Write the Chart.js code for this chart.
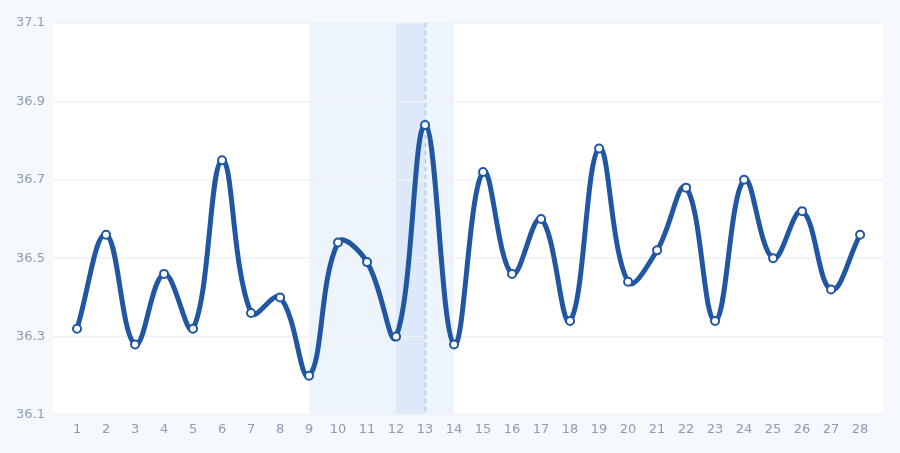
<!DOCTYPE html>
<html>
<head>
<meta charset="utf-8">
<script src="https://cdn.jsdelivr.net/npm/chart.js@4/dist/chart.umd.min.js"></script>
<style>
  html, body { margin: 0; padding: 0; background: #f5f8fc; }
  #wrap { width: 900px; height: 453px; position: relative; }
</style>
</head>
<body>
<div id="wrap"><canvas id="c" width="900" height="453"></canvas></div>
<script>
const days = [1,2,3,4,5,6,7,8,9,10,11,12,13,14,15,16,17,18,19,20,21,22,23,24,25,26,27,28];
const temps = [36.32,36.56,36.28,36.46,36.32,36.75,36.36,36.40,36.20,36.54,36.49,36.30,36.84,36.28,36.72,36.46,36.60,36.34,36.78,36.44,36.52,36.68,36.34,36.70,36.50,36.62,36.42,36.56];
const yTicks = [36.1,36.3,36.5,36.7,36.9,37.1];
const outerBand = [9,14];
const innerBand = [12,13];
const markerDay = 13;

const bgPlugin = {
  id: 'bg',
  beforeDraw(chart) {
    const {ctx, chartArea: a, scales} = chart;
    ctx.save();
    ctx.fillStyle = '#ffffff';
    ctx.fillRect(a.left, a.top, a.right - a.left, a.bottom - a.top);
    const x = scales.x;
    const x0 = x.getPixelForValue(outerBand[0]), x1 = x.getPixelForValue(outerBand[1]);
    ctx.fillStyle = '#eef4fc';
    ctx.fillRect(x0, a.top, x1 - x0, a.bottom - a.top);
    const i0 = x.getPixelForValue(innerBand[0]), i1 = x.getPixelForValue(innerBand[1]);
    ctx.fillStyle = '#dde8f8';
    ctx.fillRect(i0, a.top, i1 - i0, a.bottom - a.top);
    ctx.restore();
  },
  beforeDatasetsDraw(chart) {
    const {ctx, chartArea: a, scales} = chart;
    const xm = Math.round(scales.x.getPixelForValue(markerDay)) + 0.5;
    ctx.save();
    ctx.strokeStyle = '#a8c2e8';
    ctx.lineWidth = 1.5;
    ctx.setLineDash([4, 4]);
    ctx.beginPath();
    ctx.moveTo(xm, a.top);
    ctx.lineTo(xm, a.bottom);
    ctx.stroke();
    ctx.restore();
  }
};

new Chart(document.getElementById('c'), {
  type: 'line',
  data: {
    datasets: [{
      data: days.map((d, i) => ({x: d, y: temps[i]})),
      borderColor: '#2157a2',
      borderWidth: 5,
      borderJoinStyle: 'round',
      borderCapStyle: 'round',
      tension: 0.4,
      pointRadius: 4,
      pointBorderWidth: 2,
      pointBackgroundColor: '#ffffff',
      pointBorderColor: '#2157a2',
      fill: false
    }]
  },
  options: {
    responsive: false,
    animation: false,
    layout: { padding: { top: 23, right: 17, left: 0, bottom: 0 } },
    plugins: { legend: { display: false }, tooltip: { enabled: false } },
    scales: {
      x: {
        type: 'linear',
        min: 0.172,
        max: 28.79,
        afterBuildTicks(scale) { scale.ticks = days.map(v => ({value: v})); },
        afterFit(scale) { scale.height = 38; },
        grid: { display: false },
        border: { display: false },
        ticks: { color: '#8d9bb3', font: { family: 'DejaVu Sans', size: 13 }, padding: -1, autoSkip: false, maxRotation: 0 }
      },
      y: {
        min: 36.1,
        max: 37.1,
        afterBuildTicks(scale) { scale.ticks = yTicks.map(v => ({value: v})); },
        afterFit(scale) { scale.width = 53; },
        grid: { color: '#eef1f6', lineWidth: 1.5, drawTicks: false },
        border: { display: false },
        ticks: { color: '#8d9bb3', font: { family: 'DejaVu Sans', size: 13 }, padding: 8, callback: v => v.toFixed(1) }
      }
    }
  },
  plugins: [bgPlugin]
});
</script>
</body>
</html>
